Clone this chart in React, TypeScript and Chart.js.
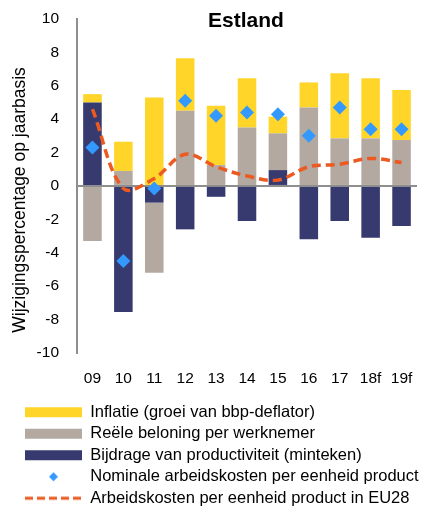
import React, { useEffect, useRef } from 'react';
import { Chart, registerables } from 'chart.js';

Chart.register(...registerables);

const categories = ['09', '10', '11', '12', '13', '14', '15', '16', '17', '18f', '19f'];
const inflation = [0.5, 1.75, 5.3, 3.15, 3.55, 2.95, 1.0, 1.5, 3.9, 3.6, 3.0];
const realCompensation = [-3.3, 0.9, -4.2, 4.5, 1.25, 3.5, 2.2, 4.7, 2.85, 2.85, 2.75];
const productivity = [5.0, -7.55, -1.0, -2.6, -0.65, -2.1, 0.95, -3.2, -2.1, -3.1, -2.4];
const nominalULC = [2.3, -4.5, -0.15, 5.1, 4.2, 4.4, 4.3, 3.0, 4.7, 3.4, 3.4];
const eu28ULC = [4.6, -0.15, 0.45, 1.9, 1.15, 0.6, 0.35, 1.15, 1.3, 1.65, 1.4];
const yTicks = [-10, -8, -6, -4, -2, 0, 2, 4, 6, 8, 10];

const labelInflation = 'Inflatie (groei van bbp-deflator)';
const labelReal = 'Reële beloning per werknemer';
const labelProd = 'Bijdrage van productiviteit (minteken)';
const labelNominal = 'Nominale arbeidskosten per eenheid product';
const labelEU = 'Arbeidskosten per eenheid product in EU28';
const chartTitle = 'Estland';
const yTitle = 'Wijzigingspercentage op jaarbasis';

const YELLOW = '#FFD52A';
const GREY = '#B3A9A0';
const NAVY = '#363A6F';
const BLUE = '#3399FF';
const ORANGE = '#EC5A22';
const AXIS = '#8E8E8E';
const CLEAR = 'rgba(0,0,0,0)';
const FONT = "'Liberation Sans', Arial, sans-serif";

function makeMarker(kind: string, color: string): HTMLCanvasElement {
  const c = document.createElement('canvas');
  c.width = 57;
  c.height = 14;
  const g = c.getContext('2d')!;
  if (kind === 'box') {
    g.fillStyle = color;
    g.fillRect(0, 2, 57, 10);
  } else if (kind === 'diamond') {
    g.fillStyle = color;
    g.beginPath();
    g.moveTo(28.5, 2.5);
    g.lineTo(33, 7);
    g.lineTo(28.5, 11.5);
    g.lineTo(24, 7);
    g.closePath();
    g.fill();
  } else {
    g.strokeStyle = color;
    g.lineWidth = 3;
    g.setLineDash([8, 4]);
    g.beginPath();
    g.moveTo(0, 7);
    g.lineTo(57, 7);
    g.stroke();
  }
  return c;
}

export default function App() {
  const ref = useRef<HTMLCanvasElement>(null);

  useEffect(() => {
    document.body.style.margin = '0';
    const canvas = ref.current!;
    const markers = {
      inf: makeMarker('box', YELLOW),
      real: makeMarker('box', GREY),
      prod: makeMarker('box', NAVY),
      nom: makeMarker('diamond', BLUE),
      eu: makeMarker('line', ORANGE),
    };

    const legendShift = {
      id: 'legendShift',
      afterLayout(chart: any) {
        const l = chart.legend;
        if (l) {
          l.left += 20;
          l.right += 20;
          l.top += 10.5;
          l.bottom += 10.5;
        }
      },
    };

    const titlePlugin = {
      id: 'innerTitles',
      afterDraw(chart: any) {
        const { ctx, chartArea } = chart;
        ctx.save();
        ctx.font = `bold 21px ${FONT}`;
        ctx.fillStyle = '#000';
        ctx.textAlign = 'center';
        ctx.textBaseline = 'alphabetic';
        ctx.fillText(chartTitle, (chartArea.left + chartArea.right) / 2 - 1, 26.7);
        ctx.restore();

        ctx.save();
        ctx.font = `17.5px ${FONT}`;
        ctx.fillStyle = '#000';
        ctx.textAlign = 'center';
        ctx.textBaseline = 'middle';
        ctx.translate(20, (chartArea.top + chartArea.bottom) / 2 + 14);
        ctx.rotate(-Math.PI / 2);
        ctx.fillText(yTitle, 0, 0);
        ctx.restore();
      },
    };

    const chart = new Chart(canvas, {
      type: 'bar',
      data: {
        labels: categories,
        datasets: [
          {
            type: 'line',
            label: labelNominal,
            data: nominalULC,
            stack: 'nominal',
            showLine: false,
            pointStyle: 'rectRot',
            pointRadius: 7,
            pointHoverRadius: 7,
            pointBackgroundColor: BLUE,
            pointBorderWidth: 0,
            borderColor: BLUE,
            backgroundColor: BLUE,
            order: -2,
          } as any,
          {
            type: 'line',
            label: labelEU,
            data: eu28ULC,
            stack: 'eu28',
            borderColor: ORANGE,
            borderWidth: 3.5,
            borderDash: [9, 5],
            tension: 0.35,
            pointRadius: 0,
            fill: false,
            order: -1,
          } as any,
          {
            label: labelProd,
            data: productivity,
            backgroundColor: NAVY,
            stack: 's',
          },
          {
            label: labelReal,
            data: realCompensation,
            backgroundColor: GREY,
            stack: 's',
          },
          {
            label: labelInflation,
            data: inflation,
            backgroundColor: YELLOW,
            stack: 's',
          },
        ],
      },
      options: {
        responsive: false,
        animation: false,
        events: [],
        layout: { padding: { top: 19, left: 0, right: 0, bottom: 0 } },
        datasets: {
          bar: { barPercentage: 0.6, categoryPercentage: 1, borderWidth: 0 },
        },
        scales: {
          x: {
            stacked: true,
            grid: { display: true, color: CLEAR, drawTicks: true, tickLength: 17, tickColor: CLEAR },
            border: { display: false },
            ticks: { color: '#000', font: { family: FONT, size: 15.5 }, padding: 0, maxRotation: 0, autoSkip: false },
          },
          y: {
            stacked: true,
            min: -10,
            max: 10,
            afterBuildTicks(scale: any) {
              scale.ticks = yTicks.map((v) => ({ value: v }));
            },
            afterFit(scale: any) {
              scale.width = 77;
            },
            grid: {
              drawTicks: true,
              tickLength: 18,
              tickColor: CLEAR,
              color: (ctx: any) => (ctx.tick && ctx.tick.value === 0 ? AXIS : CLEAR),
              lineWidth: 2,
            },
            border: { display: true, color: AXIS, width: 2 },
            ticks: { color: '#000', font: { family: FONT, size: 15.5 }, padding: 0 },
            title: { display: false },
          },
        },
        plugins: {
          title: { display: false },
          tooltip: { enabled: false },
          legend: {
            display: true,
            position: 'bottom',
            align: 'start',
            labels: {
              usePointStyle: true,
              pointStyleWidth: 57,
              boxHeight: 10,
              padding: 5,
              color: '#000',
              font: { family: FONT, size: 16.5 },
              generateLabels: () => [
                { text: labelInflation, pointStyle: markers.inf, hidden: false, datasetIndex: 4, lineWidth: 0 },
                { text: labelReal, pointStyle: markers.real, hidden: false, datasetIndex: 3, lineWidth: 0 },
                { text: labelProd, pointStyle: markers.prod, hidden: false, datasetIndex: 2, lineWidth: 0 },
                { text: labelNominal, pointStyle: markers.nom, hidden: false, datasetIndex: 0, lineWidth: 0 },
                { text: labelEU, pointStyle: markers.eu, hidden: false, datasetIndex: 1, lineWidth: 0 },
              ] as any,
            },
          },
        },
      },
      plugins: [legendShift, titlePlugin],
    } as any);

    return () => chart.destroy();
  }, []);

  return (
    <div style={{ position: 'absolute', left: 0, top: 0, width: 424, height: 506 }}>
      <canvas ref={ref} width={424} height={506} style={{ display: 'block' }} />
    </div>
  );
}
